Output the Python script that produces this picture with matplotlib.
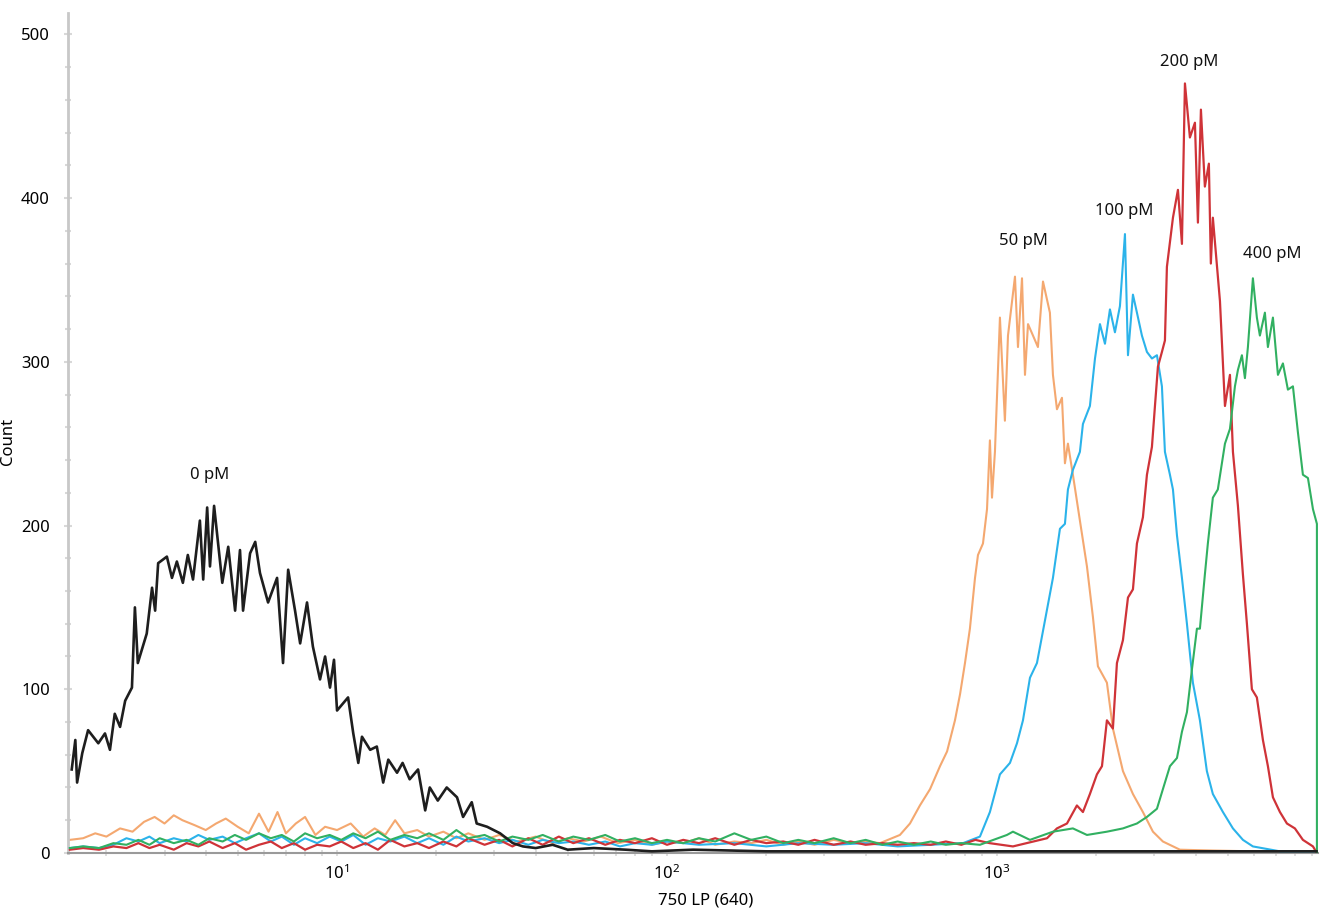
import numpy as np
import matplotlib
matplotlib.use("Agg")
import matplotlib.pyplot as plt
from matplotlib.ticker import MultipleLocator, LogLocator, NullFormatter

plt.rcParams['font.family'] = ['Noto Sans', 'DejaVu Sans']

# ---------------- data ----------------
x_0pM = [1.57, 1.61, 1.63, 1.69, 1.76, 1.89, 1.98, 2.05, 2.12, 2.20, 2.28, 2.39, 2.44, 2.49,
         2.65, 2.75, 2.81, 2.87, 3.05, 3.16, 3.27, 3.41, 3.53, 3.66, 3.84, 3.93, 4.04, 4.12,
         4.24, 4.49, 4.68, 4.91, 5.08, 5.19, 5.45, 5.65, 5.84, 6.18, 6.58, 6.86, 7.11, 7.46,
         7.73, 8.11, 8.45, 8.88, 9.20, 9.52, 9.79, 10.0, 10.8, 11.2, 11.6, 11.9, 12.6, 13.2,
         13.8, 14.3, 15.2, 15.8, 16.6, 17.6, 18.5, 19.1, 20.2, 21.5, 23.1, 24.1, 25.6, 26.5,
         28.5, 31.2, 34.1, 36.6, 40, 45, 50, 60, 75, 90, 120, 200, 500, 1000, 3000, 9300]
y_0pM = [51, 69, 43, 61, 75, 67, 73, 63, 85, 77, 93, 101, 150, 116,
         134, 162, 148, 177, 181, 168, 178, 165, 182, 167, 203, 167, 211, 175,
         212, 165, 187, 148, 185, 148, 183, 190, 171, 153, 168, 116, 173, 148,
         128, 153, 126, 106, 120, 101, 118, 87, 95, 73, 55, 71, 63, 65,
         43, 57, 49, 55, 45, 51, 26, 40, 32, 40, 34, 22, 31, 18,
         16, 12, 6, 4, 3, 5, 2, 3, 2, 1, 2, 1, 1, 1, 1, 1]

x_50pM = [1.55, 1.7, 1.85, 2.0, 2.2, 2.4, 2.6, 2.8, 3.0, 3.2, 3.4, 3.7, 4.0, 4.3, 4.6, 5.0,
          5.4, 5.8, 6.2, 6.6, 7.0, 7.5, 8.0, 8.6, 9.2, 10, 11, 12, 13, 14, 15, 16, 17.5, 19,
          21, 23, 25, 28, 31, 35, 40, 45, 50, 56, 63, 71, 80, 90, 100, 112, 125, 140, 160,
          180, 200, 225, 250, 280, 320, 360, 400, 442, 508, 545, 584, 627, 672, 706, 746,
          773, 800, 828, 858, 876, 907, 933, 952, 966, 986, 1021, 1057, 1080, 1134, 1158,
          1191, 1216, 1242, 1286, 1331, 1379, 1447, 1478, 1520, 1574, 1607, 1641, 1699,
          1784, 1874, 1954, 2023, 2154, 2246, 2409, 2583, 2769, 2970, 3184, 3585, 4500,
          6000, 9300]
y_50pM = [8, 9, 12, 10, 15, 13, 19, 22, 18, 23, 20, 17, 14, 18, 21, 16,
          12, 24, 13, 25, 12, 18, 22, 11, 16, 14, 18, 10, 15, 11, 20, 12, 14, 10,
          13, 9, 12, 8, 11, 7, 10, 6, 9, 7, 10, 6, 8, 5, 7, 6, 9, 5, 7,
          6, 8, 5, 7, 5, 8, 6, 7, 6, 11, 18, 29, 39, 53, 62, 81,
          97, 116, 137, 168, 182, 189, 210, 252, 217, 245, 327, 264, 316, 352, 309,
          351, 292, 323, 316, 309, 349, 330, 292, 271, 278, 238, 250, 231,
          203, 175, 144, 114, 104, 76, 50, 36, 25, 13, 7, 2, 1.5,
          1, 1]

x_100pM = [1.55, 1.7, 1.9, 2.1, 2.3, 2.5, 2.7, 2.9, 3.2, 3.5, 3.8, 4.1, 4.5, 4.9, 5.3, 5.8,
           6.3, 6.8, 7.4, 8.0, 8.7, 9.5, 10.3, 11.2, 12.2, 13.3, 14.5, 16, 17.5, 19, 21, 23,
           25, 28, 31, 34, 38, 42, 47, 52, 58, 65, 72, 80, 90, 100, 125, 160, 200, 250, 320,
           400, 500, 630, 789, 888, 952, 1021, 1095, 1150, 1199, 1259, 1322, 1398, 1478,
           1552, 1607, 1641, 1699, 1784, 1822, 1913, 1982, 2052, 2125, 2200, 2278, 2359,
           2443, 2495, 2583, 2656, 2750, 2848, 2949, 3054, 3162, 3229, 3344, 3415, 3512,
           3636, 3765, 3925, 4122, 4327, 4512, 4840, 5190, 5565, 5966, 7205, 9300]
y_100pM = [3, 4, 3, 5, 9, 7, 10, 6, 9, 7, 11, 8, 10, 6, 9, 12,
           7, 10, 5, 9, 6, 10, 7, 11, 5, 9, 7, 10, 6, 9, 5, 10,
           7, 9, 6, 8, 5, 8, 6, 7, 5, 7, 4, 6, 5, 7, 5, 6, 4, 6, 5,
           6, 4, 5, 6, 10, 25, 48, 55, 67, 81, 107, 116, 142, 168,
           198, 201, 222, 234, 245, 262, 273, 302, 323, 311, 332, 318, 334,
           378, 304, 341, 330, 316, 306, 302, 304, 285, 245, 231, 222, 194,
           168, 140, 104, 81, 50, 36, 25, 15, 8, 4, 1, 1]

x_200pM = [1.55, 1.7, 1.9, 2.1, 2.3, 2.5, 2.7, 2.9, 3.2, 3.5, 3.8, 4.1, 4.5, 4.9, 5.3, 5.8,
           6.3, 6.8, 7.4, 8.0, 8.7, 9.5, 10.3, 11.2, 12.2, 13.3, 14.5, 16, 17.5, 19, 21, 23,
           25, 28, 31, 34, 38, 42, 47, 52, 58, 65, 72, 80, 90, 100, 112, 125, 140, 160, 180,
           200, 225, 250, 280, 320, 360, 400, 450, 500, 560, 630, 700, 780, 860, 950, 1118,
           1418, 1520, 1630, 1747, 1822, 1913, 2009, 2081, 2154, 2246, 2310, 2409, 2495,
           2583, 2656, 2769, 2848, 2949, 3012, 3075, 3162, 3229, 3274, 3415, 3536, 3636,
           3713, 3844, 3981, 4065, 4151, 4267, 4388, 4449, 4512, 4741, 4909, 5083, 5190,
           5374, 5565, 5722, 5924, 6134, 6398, 6625, 6861, 7205, 7565, 7998, 8458, 9072, 9326]
y_200pM = [2, 3, 2, 4, 3, 6, 3, 5, 2, 6, 4, 7, 3, 6, 2, 5,
           7, 3, 6, 2, 5, 4, 7, 3, 6, 2, 8, 4, 6, 3, 7, 4,
           9, 5, 8, 4, 9, 5, 10, 6, 9, 5, 8, 6, 9, 5, 8, 6, 9, 5, 8,
           6, 7, 5, 8, 5, 7, 5, 6, 5, 6, 5, 7, 5, 8, 6, 4,
           9, 15, 18, 29, 25, 36, 48, 53, 81, 76, 116, 130, 156,
           161, 189, 205, 231, 248, 273, 297, 306, 313, 358, 388, 405, 372,
           470, 437, 446, 385, 454, 407, 421, 360, 388, 337, 273, 292, 245,
           212, 170, 140, 100, 95, 69, 53, 34, 25, 18, 15, 8, 4, 0]

x_400pM = [1.55, 1.7, 1.9, 2.1, 2.3, 2.5, 2.7, 2.9, 3.2, 3.5, 3.8, 4.1, 4.5, 4.9, 5.3, 5.8,
           6.3, 6.8, 7.4, 8.0, 8.7, 9.5, 10.3, 11.2, 12.2, 13.3, 14.5, 16, 17.5, 19, 21, 23,
           25, 28, 31, 34, 38, 42, 47, 52, 58, 65, 72, 80, 90, 100, 112, 125, 140, 160, 180,
           200, 225, 250, 280, 320, 360, 400, 450, 500, 560, 630, 700, 780, 888, 1072, 1118,
           1259, 1478, 1699, 1874, 2154, 2409, 2656, 2848, 3054, 3184, 3344, 3512, 3636,
           3765, 3898, 4037, 4122, 4267, 4357, 4512, 4671, 4909, 5083, 5263, 5374, 5526,
           5643, 5762, 5966, 6134, 6264, 6487, 6625, 6861, 7105, 7357, 7617, 7889, 8167,
           8458, 8760, 9072, 9326, 9326]
y_400pM = [3, 4, 3, 6, 5, 8, 5, 9, 6, 8, 5, 9, 7, 11, 8, 12,
           9, 11, 7, 12, 9, 11, 8, 12, 9, 13, 8, 11, 9, 12, 8, 14,
           9, 11, 7, 10, 8, 11, 7, 10, 8, 11, 7, 9, 6, 8, 6, 9, 7, 12, 8,
           10, 6, 8, 6, 9, 6, 8, 5, 7, 5, 7, 5, 6, 5, 11, 13,
           8, 13, 15, 11, 13, 15, 18, 22, 27, 39, 53, 58, 74,
           86, 112, 137, 137, 170, 189, 217, 222, 250, 259, 285, 295, 304,
           290, 309, 351, 327, 316, 330, 309, 327, 292, 299, 283, 285, 257,
           231, 229, 210, 201, 0]

labels = ["0 pM", "50 pM", "100 pM", "200 pM", "400 pM"]
label_x = [4.12, 1199, 2426, 3818, 6813]
label_y = [231, 374, 392, 483, 366]

x_ticks = [10, 100, 1000]
y_ticks = [0, 100, 200, 300, 400, 500]

# ---------------- drawing ----------------
fig = plt.figure(figsize=(13.26, 9.11), dpi=100)
ax = fig.add_axes([0.0513, 0.0637, 0.9427, 0.922])

ax.plot(x_50pM, y_50pM, color='#f4a870', lw=1.5, zorder=2)
ax.plot(x_100pM, y_100pM, color='#2bb3ea', lw=1.5, zorder=3)
ax.plot(x_200pM, y_200pM, color='#cf3338', lw=1.6, zorder=4)
ax.plot(x_400pM, y_400pM, color='#31b061', lw=1.5, zorder=5)
ax.plot(x_0pM, y_0pM, color='#1e1e1e', lw=1.9, zorder=6)

ax.set_xscale('log')
ax.set_xlim(1.53, 9400)
ax.set_ylim(0, 513)

ax.set_xticks(x_ticks)
ax.xaxis.set_minor_locator(LogLocator(base=10, subs=np.arange(2, 10)))
ax.xaxis.set_minor_formatter(NullFormatter())
ax.set_yticks(y_ticks)
ax.yaxis.set_minor_locator(MultipleLocator(20))

for s in ['top', 'right']:
    ax.spines[s].set_visible(False)
ax.spines['left'].set_color('#c8c8c8')
ax.spines['left'].set_linewidth(2)
ax.spines['bottom'].set_color('#9a9a9a')
ax.spines['bottom'].set_linewidth(1.5)

ax.tick_params(axis='y', which='both', direction='inout', color='#d8d8d8', length=6,
               width=1.5, labelsize=12, pad=10)
ax.tick_params(axis='y', which='minor', length=5)
ax.tick_params(axis='x', which='both', direction='inout', color='#d8d8d8', length=5,
               width=1.2, labelsize=12, pad=6)

ax.set_xlabel('750 LP (640)', fontsize=12, labelpad=6)
ax.xaxis.set_label_coords(0.51, -0.047)
ax.set_ylabel('Count', fontsize=12)
ax.yaxis.set_label_coords(-0.042, 0.49)

for t, xv, yv in zip(labels, label_x, label_y):
    ax.text(xv, yv, t, fontsize=12, ha='center', va='center', color='#111111')

fig.savefig('out.png', dpi=100)
